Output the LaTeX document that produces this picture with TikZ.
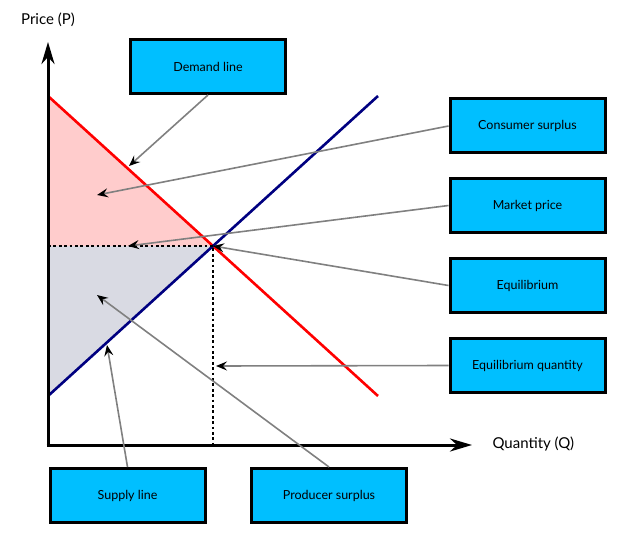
\documentclass[tikz,border=0pt]{standalone}
\usepackage{fontspec}
\setmainfont{Lato}
\usetikzlibrary{arrows.meta}
\definecolor{skyblue}{HTML}{00BFFF}
\definecolor{surpluspink}{HTML}{FFCCCC}
\definecolor{surplusgray}{HTML}{D9DAE3}
\definecolor{supplyblue}{HTML}{000080}
\tikzset{
	block/.style={
		rectangle,
		align=center,
		draw=black,
		line width=3pt,
		fill=skyblue,
		minimum width=155pt,
		minimum height=54pt,
		font=\fontsize{12.5}{14}\selectfont
	},
	pointer/.style={
		draw=gray,
		line width=1.6pt,
		-{Stealth[length=11pt,width=9pt,inset=4pt,black]}
	},
	axis/.style={
		line width=3pt,
		-{Stealth[length=22pt,width=13pt,inset=7pt]}
	}
}

\begin{document}
\begin{tikzpicture}[x=1pt,y=-1pt]
					\useasboundingbox (0,0) rectangle (620,540);
					\coordinate (O) at (48,445);
					\coordinate (Ytip) at (48,42);
					\coordinate (Xtip) at (472,445);
					\coordinate (Eq) at (213,246);
					\coordinate (Pstar) at (48,246);
					\coordinate (Qstar) at (213,445);
					
					% surplus areas
					\fill[surpluspink] (48,96) -- (Pstar) -- (Eq) -- cycle;
					\fill[surplusgray] (Pstar) -- (48,396) -- (Eq) -- cycle;
					
					% demand and supply
					\draw[red, line width=2.6pt] (48,96) -- (378,396);
					\draw[supplyblue, line width=2.6pt] (48,396) -- (378,96);
					\draw[line width=2.8pt, dash pattern=on 2.8pt off 2.6pt] (Pstar) -- (Eq) -- (Qstar);
					
					% axes
					\draw[axis] (O) -- (Ytip);
					\draw[axis] ([xshift=-1.5pt]O) -- (Xtip);
					\node[font=\fontsize{15}{17}\selectfont] (Plabel) at (48,20) {Price (P)};
					\node[font=\fontsize{15}{17}\selectfont, right] (Qlabel) at (489,444) {Quantity (Q)};
					
					% labels
					\node[block] (Demand) at (208,66.5) {Demand line};
					\node[block] (Consumer) at (527.5,126) {Consumer surplus};
					\node[block] (Market) at (527.5,205.5) {Market price};
					\node[block] (Equil) at (527.5,285.5) {Equilibrium};
					\node[block] (EqQty) at (527.5,365.5) {Equilibrium quantity};
					\node[block] (Supply) at (127.5,495.5) {Supply line};
					\node[block] (Producer) at (329,495.5) {Producer surplus};
					
					\draw[pointer] (Demand.south) -- (129,166);
					\draw[pointer] (Consumer.west) -- (97,195);
					\draw[pointer] (Market.west) -- (128,246);
					\draw[pointer] (Equil.west) -- (Eq);
					\draw[pointer] (EqQty.west) -- (216,366);
					\draw[pointer] (Producer.north) -- (97,295);
					\draw[pointer] (Supply.north) -- (107,345);
				\end{tikzpicture}
\end{document}
